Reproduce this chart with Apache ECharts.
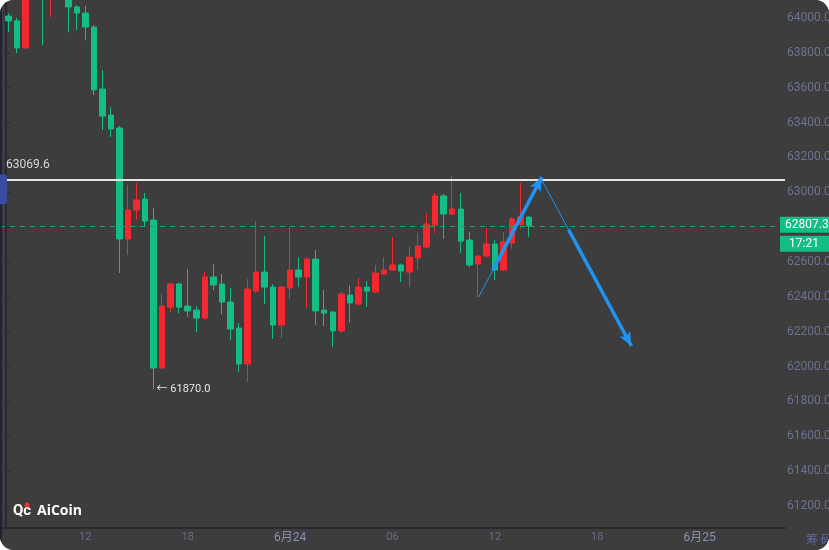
<!DOCTYPE html>
<html>
<head>
<meta charset="UTF-8">
<title>BTC 30分钟K线</title>
<script src="https://cdn.jsdelivr.net/npm/echarts@6/dist/echarts.min.js"></script>
<style>
  html, body { margin: 0; padding: 0; background: #fff; }
  #chart { width: 829px; height: 550px; border-radius: 14px; overflow: hidden; background: #3d3d3d; }
</style>
</head>
<body>
<div id="chart"></div>
<script>
// 30分钟K线，6月23日 07:00 起，共 93 格（后面留空）
var slotCount = 93;
var opens  = [64160,64011,63983,63828,64150,64250,64130,64190,64150,64063,64028,63948,63592,63443,63369,62732,62898,62961,62841,61992,
              62341,62474,62347,62324,62278,62514,62474,62370,62221,62015,62433,62542,62456,62238,62451,62554,62514,62617,62324,62313,
              62204,62410,62359,62456,62428,62531,62554,62583,62542,62623,62686,62812,62979,62875,62904,62726,62588,62634,62703,62554,
              62709,62815,62858];
var closes = [64220,63983,63828,64130,64210,64130,64190,64150,64063,64028,63948,63587,63437,63363,62732,62898,62956,62835,61992,62347,
              62474,62341,62319,62278,62514,62468,62370,62215,62015,62445,62542,62456,62238,62456,62554,62514,62617,62319,62307,62204,
              62416,62365,62456,62433,62537,62554,62583,62548,62628,62692,62818,62979,62875,62904,62720,62583,62634,62703,62554,62715,
              62847,62858,62807.3];
var lows   = [64120,63919,63799,63820,64120,63845,64005,64110,63919,63931,63873,63558,63357,63317,62537,62640,62841,62801,61870,61985,
              62313,62307,62284,62198,62270,62439,62301,62152,61969,61911,62425,62359,62158,62164,62388,62456,62336,62238,62233,62112,
              62195,62250,62350,62342,62420,62525,62550,62485,62456,62554,62680,62766,62732,62870,62651,62571,62399,62625,62497,62548,
              62675,62790,62744];
var highs  = [64260,64028,64000,64160,64250,64280,64240,64230,64160,64074,64069,63960,63701,63489,63380,63042,63053,62996,62910,62422,
              62480,62480,62560,62347,62542,62588,62531,62451,62250,62502,62835,62749,62474,62465,62801,62628,62628,62669,62439,62320,
              62430,62468,62508,62491,62583,62628,62743,62590,62686,62766,62881,62996,62990,63093,62996,62772,62640,62795,62726,62772,
              62858,63053,62862];

var xTickSlots = [10, 22, 34, 46, 58, 70, 82];
var xTickText = ['12', '18', '6月24', '06', '12', '18', '6月25'];

var levelPrice = 63069.6;
var lastPrice = 62807.3;
var lastTime = '17:21';
var lowSlot = 18;
var lowPrice = 61870.0;

// 手画箭头（格序号, 价格）
var upArrow = [[56.1, 62399], [63.5, 63087]];
var downArrow = [[63.5, 63070], [74.0, 62118]];

var categories = [];
var t0 = new Date(2024, 5, 23, 7, 0);
for (var i = 0; i < slotCount; i++) {
  var d = new Date(t0.getTime() + i * 30 * 60000);
  categories.push((d.getMonth() + 1) + '月' + d.getDate() + '日 ' +
    ('0' + d.getHours()).slice(-2) + ':' + ('0' + d.getMinutes()).slice(-2));
}

var kData = opens.map(function (o, i) { return [o, closes[i], lows[i], highs[i]]; });

var UP = '#f5282f', DOWN = '#13bd86', ARROW = '#2093f3';
var FONT = 'Roboto, "Noto Sans CJK SC", sans-serif';

function along(seg, f) {
  return [seg[0][0] + (seg[1][0] - seg[0][0]) * f, seg[0][1] + (seg[1][1] - seg[0][1]) * f];
}

var chart = echarts.init(document.getElementById('chart'));

var option = {
  backgroundColor: '#3d3d3d',
  animation: false,
  grid: { left: 0, right: 44, top: 0, bottom: 22, outerBoundsMode: 'none' },
  xAxis: [
    {
      type: 'category',
      data: categories,
      boundaryGap: false,
      axisLine: { show: true, lineStyle: { color: '#2a2a2e', width: 2 } },
      axisTick: { show: false },
      splitLine: { show: false },
      axisLabel: {
        margin: 4,
        fontFamily: FONT,
        fontSize: 11,
        color: '#666c88',
        interval: function (idx) { return xTickSlots.indexOf(idx) >= 0; },
        formatter: function (v, idx) {
          var s = xTickText[xTickSlots.indexOf(idx)] || '';
          return s.indexOf('月') > 0 ? '{d|' + s + '}' : s;
        },
        rich: { d: { color: '#8a90b0', fontSize: 12, fontFamily: FONT } }
      }
    },
    { type: 'value', min: 0, max: slotCount - 1, show: false }
  ],
  yAxis: {
    type: 'value',
    position: 'right',
    offset: -6,
    min: 61074,
    max: 64103,
    splitNumber: 15,
    axisLine: { show: true, lineStyle: { color: '#2a2a2e', width: 2 } },
    axisTick: { show: true, length: 4, lineStyle: { color: '#2a2a2e' } },
    splitLine: { show: false },
    axisLabel: {
      margin: 8,
      fontFamily: FONT,
      fontSize: 12,
      color: '#6c7290',
      showMinLabel: false,
      showMaxLabel: false,
      formatter: function (v) { return v.toFixed(1); }
    }
  },
  series: [
    {
      type: 'candlestick',
      data: kData,
      barWidth: 6,
      itemStyle: { color: UP, color0: DOWN, borderColor: UP, borderColor0: DOWN, borderWidth: 1 },
      markLine: {
        silent: true,
        symbol: ['none', 'none'],
        label: { show: false },
        data: [
          { yAxis: lastPrice, lineStyle: { color: '#1f9d7a', type: [5, 5], width: 1 } },
          { yAxis: levelPrice, lineStyle: { color: '#e4e4e4', type: 'solid', width: 2 } }
        ]
      },
      markPoint: {
        silent: true,
        symbol: 'circle',
        symbolSize: 0,
        label: {
          show: true,
          position: 'right',
          distance: 3,
          color: '#e6e6e6',
          fontFamily: FONT,
          fontSize: 11,
          formatter: '← ' + lowPrice.toFixed(1)
        },
        data: [{ coord: [categories[lowSlot], lowPrice] }]
      }
    },
    {
      type: 'line',
      xAxisIndex: 1,
      data: [],
      markLine: {
        silent: true,
        symbol: ['none', 'none'],
        label: { show: false },
        lineStyle: { color: ARROW, width: 1, type: 'solid' },
        data: [
          [{ coord: upArrow[0] }, { coord: upArrow[1] }],
          [{ coord: downArrow[0] }, { coord: downArrow[1] }]
        ]
      }
    },
    {
      type: 'line',
      xAxisIndex: 1,
      data: [],
      markLine: {
        silent: true,
        symbol: ['none', 'arrow'],
        symbolSize: [9, 14],
        label: { show: false },
        lineStyle: { color: ARROW, width: 3.5, type: 'solid' },
        data: [
          [{ coord: along(upArrow, 0.22) }, { coord: upArrow[1] }],
          [{ coord: along(downArrow, 0.3) }, { coord: downArrow[1] }]
        ]
      }
    }
  ]
};

chart.setOption(option);

var yLast = chart.convertToPixel({ yAxisIndex: 0 }, lastPrice);
var yLevel = chart.convertToPixel({ yAxisIndex: 0 }, levelPrice);

chart.setOption({
  graphic: [
    { type: 'rect', left: 0, top: 0, shape: { width: 2, height: 550 }, style: { fill: '#1d2333' }, z: 100 },
    { type: 'rect', x: 0, y: yLevel - 6, shape: { width: 7, height: 30, r: [0, 3, 3, 0] }, style: { fill: '#3b4aa3' }, z: 100 },
    { type: 'text', x: 6, y: yLevel - 15, style: { text: levelPrice.toFixed(1), fill: '#d6d6d6', font: '12px ' + FONT, textVerticalAlign: 'middle' }, z: 100 },
    { type: 'rect', x: 780, y: yLast - 9, shape: { width: 49, height: 16 }, style: { fill: DOWN }, z: 100 },
    { type: 'text', x: 785, y: yLast - 1, style: { text: lastPrice.toFixed(1), fill: '#ffffff', font: '12px ' + FONT, textVerticalAlign: 'middle' }, z: 101 },
    { type: 'rect', x: 780, y: yLast + 10, shape: { width: 49, height: 16 }, style: { fill: DOWN }, z: 100 },
    { type: 'text', x: 804, y: yLast + 18, style: { text: lastTime, fill: '#ffffff', font: '12px ' + FONT, textAlign: 'center', textVerticalAlign: 'middle' }, z: 101 },
    { type: 'text', x: 13, y: 511, style: { text: 'Qc', fill: '#ffffff', font: 'bold 15px ' + FONT, textVerticalAlign: 'middle' }, z: 100 },
    { type: 'circle', shape: { cx: 27, cy: 505, r: 2.5 }, style: { fill: '#e53935' }, z: 101 },
    { type: 'text', x: 37, y: 511, style: { text: 'AiCoin', fill: '#ffffff', font: 'bold 14px "Open Sans", sans-serif', textVerticalAlign: 'middle' }, z: 100 },
    { type: 'text', x: 806, y: 539, style: { text: '筹 码', fill: '#5e68a2', font: '12px "Noto Sans CJK SC"', textVerticalAlign: 'middle' }, z: 100 }
  ]
});
</script>
</body>
</html>
